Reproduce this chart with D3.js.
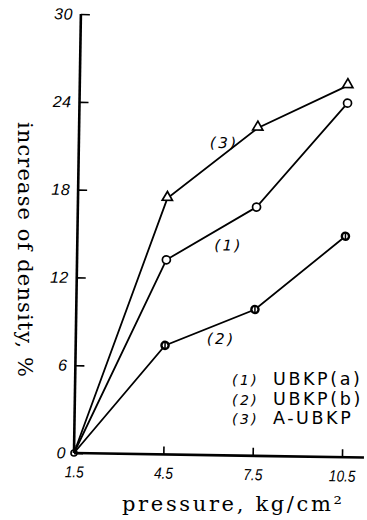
<!DOCTYPE html>
<html>
<head>
<meta charset="utf-8">
<script src="https://cdn.jsdelivr.net/npm/d3@7"></script>
<style>
  body { margin: 0; background: #fff; }
  svg { display: block; }
</style>
</head>
<body>
<div id="chart"></div>
<script>
// values
var pressures = [1.5, 4.5, 7.5, 10.5];
var ubkpA = [0, 13.3, 17.0, 24.2];   // (1)
var ubkpB = [0, 7.45, 10.0, 15.1];   // (2)
var aUbkp = [0, 17.5, 22.4, 25.4];   // (3)
var yTicks = [0, 6, 12, 18, 24, 30];
var xTicks = [1.5, 4.5, 7.5, 10.5];
var xTickLabels = ["1.5", "4.5", "7.5", "10.5"];
var legendLabels = [["(1)", "UBKP(a)"], ["(2)", "UBKP(b)"], ["(3)", "A-UBKP"]];

var width = 367, height = 520;
var origin = { x: 74, y: 453 };

var svg = d3.select("#chart").append("svg")
  .attr("width", width)
  .attr("height", height);

var xScale = d3.scaleLinear().domain([1.5, 10.5]).range([origin.x, origin.x + 268]);
var yScale = d3.scaleLinear().domain([0, 30]).range([origin.y, origin.y - 439]);

// the scan is slightly rotated, so the whole plot is too
var plot = svg.append("g")
  .attr("transform", "rotate(0.9," + origin.x + "," + origin.y + ")");

// axes
var xAxis = d3.axisBottom(xScale)
  .tickValues(xTicks)
  .tickSize(-8)
  .tickPadding(13)
  .tickFormat(function(d, i) { return xTickLabels[i]; });
var yAxis = d3.axisLeft(yScale)
  .tickValues(yTicks)
  .tickSize(-9)
  .tickPadding(8)
  .tickFormat(d3.format("d"));

var gx = plot.append("g")
  .attr("transform", "translate(0," + origin.y + ")")
  .call(xAxis);
gx.select(".domain").attr("d", "M" + origin.x + ",0H" + (origin.x + 290))
  .attr("stroke-width", 2.6);
gx.selectAll(".tick line").attr("stroke-width", 1.6);
gx.selectAll(".tick text")
  .style("font-family", "'Liberation Sans', sans-serif")
  .style("font-style", "italic")
  .style("font-size", "16px")
  .attr("transform", "scale(0.85,1)");

var gy = plot.append("g")
  .attr("transform", "translate(" + origin.x + ",0)")
  .call(yAxis);
gy.select(".domain").attr("d", "M0," + origin.y + "V" + yScale(30))
  .attr("stroke-width", 2.6);
gy.selectAll(".tick line").attr("stroke-width", 1.6);
gy.selectAll(".tick text")
  .style("font-family", "'Liberation Sans', sans-serif")
  .style("font-style", "italic")
  .style("font-size", "16px")
  .attr("letter-spacing", 0.5);

// series
var series = [
  { name: "1", values: ubkpA, marker: "circle" },
  { name: "2", values: ubkpB, marker: "dot" },
  { name: "3", values: aUbkp, marker: "triangle" }
];

var line = d3.line()
  .x(function(d, i) { return xScale(pressures[i]); })
  .y(function(d) { return yScale(d); });

plot.selectAll(".series")
  .data(series)
  .enter()
  .append("path")
  .attr("class", "series")
  .attr("d", function(d) { return line(d.values); })
  .attr("fill", "none")
  .attr("stroke", "#000")
  .attr("stroke-width", 1.8);

var tri = d3.symbol().type(d3.symbolTriangle).size(45);

series.forEach(function(s) {
  var pts = s.values.slice(1).map(function(v, i) { return [pressures[i + 1], v]; });
  var g = plot.append("g");
  if (s.marker === "triangle") {
    g.selectAll("path").data(pts).enter().append("path")
      .attr("d", tri)
      .attr("transform", function(d) { return "translate(" + xScale(d[0]) + "," + (yScale(d[1]) - 1) + ")"; })
      .attr("fill", "#fff")
      .attr("stroke", "#000")
      .attr("stroke-width", 1.7);
  } else {
    g.selectAll("circle").data(pts).enter().append("circle")
      .attr("cx", function(d) { return xScale(d[0]); })
      .attr("cy", function(d) { return yScale(d[1]); })
      .attr("r", s.marker === "dot" ? 3.6 : 4)
      .attr("fill", "#fff")
      .attr("stroke", "#000")
      .attr("stroke-width", s.marker === "dot" ? 2.4 : 1.7);
    if (s.marker === "dot") {
      g.selectAll("line").data(pts).enter().append("line")
        .attr("x1", function(d) { return xScale(d[0]); })
        .attr("x2", function(d) { return xScale(d[0]); })
        .attr("y1", function(d) { return yScale(d[1]) - 3; })
        .attr("y2", function(d) { return yScale(d[1]) + 3; })
        .attr("stroke", "#000")
        .attr("stroke-width", 1.5);
    }
  }
});

// origin marker
plot.append("circle")
  .attr("cx", xScale(1.5))
  .attr("cy", yScale(0))
  .attr("r", 3)
  .attr("fill", "none")
  .attr("stroke", "#000")
  .attr("stroke-width", 1.6);

// series labels near the lines
var seriesLabels = [
  { text: "(3)", x: 5.9, y: 21.0 },
  { text: "(1)", x: 6.1, y: 14.0 },
  { text: "(2)", x: 5.9, y: 7.6 }
];
plot.selectAll(".slabel")
  .data(seriesLabels)
  .enter()
  .append("text")
  .attr("class", "slabel")
  .attr("x", function(d) { return xScale(d.x); })
  .attr("y", function(d) { return yScale(d.y); })
  .attr("font-family", "'DejaVu Sans', sans-serif")
  .attr("font-size", 15)
  .attr("font-style", "italic")
  .attr("letter-spacing", 2.5)
  .text(function(d) { return d.text; });

// legend
var legend = svg.append("g").attr("transform", "translate(232,385)");
legendLabels.forEach(function(l, i) {
  var t = legend.append("text")
    .attr("y", i * 19.5)
    .attr("font-family", "'DejaVu Sans', sans-serif")
    .attr("fill", "#000");
  t.append("tspan")
    .attr("font-size", 14)
    .attr("font-style", "italic")
    .attr("letter-spacing", 2.5)
    .text(l[0]);
  t.append("tspan")
    .attr("x", 41)
    .attr("font-size", 17.5)
    .attr("letter-spacing", 2.6)
    .text(l[1]);
});

// axis titles
svg.append("text")
  .attr("x", 122)
  .attr("y", 511)
  .attr("font-family", "'DejaVu Serif', serif")
  .attr("font-size", 21)
  .attr("textLength", 220)
  .attr("lengthAdjust", "spacing")
  .text("pressure, kg/cm²");

svg.append("text")
  .attr("transform", "translate(18,122) rotate(90)")
  .attr("font-family", "'DejaVu Serif', serif")
  .attr("font-size", 21)
  .attr("textLength", 255)
  .attr("lengthAdjust", "spacing")
  .text("increase of density, %");
</script>
</body>
</html>
